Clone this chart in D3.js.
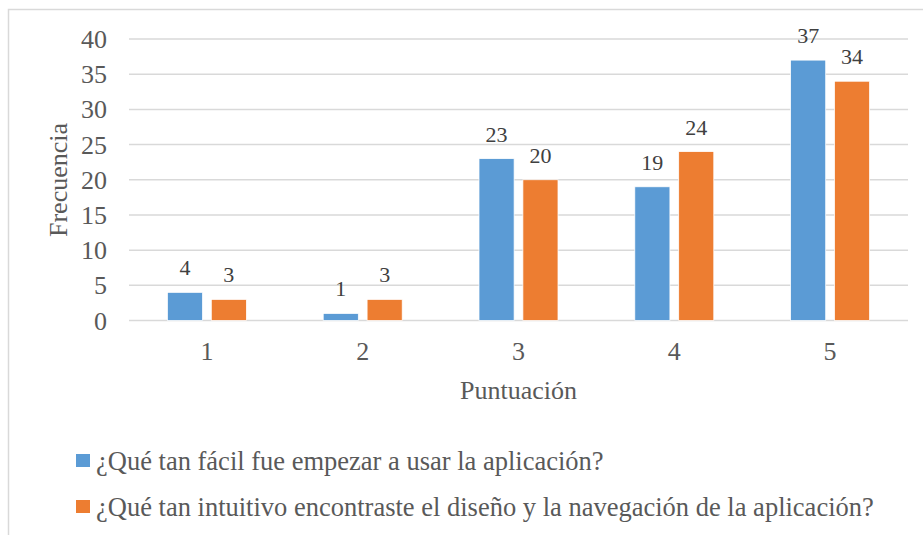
<!DOCTYPE html>
<html>
<head>
<meta charset="utf-8">
<script src="https://cdn.jsdelivr.net/npm/d3@7"></script>
<style>
  html, body { margin: 0; padding: 0; background: #fff; }
  svg text { font-family: 'Liberation Serif', 'Times New Roman', Tinos, 'DejaVu Serif', serif; }
</style>
</head>
<body>
<svg id="chart" width="923" height="535" font-family="Liberation Serif, Times New Roman, DejaVu Serif, serif"></svg>
<script>
// Puntuación (1–5) y frecuencias por pregunta
const categories = ["1", "2", "3", "4", "5"];
const seriesNames = [
  "¿Qué tan fácil fue empezar a usar la aplicación?",
  "¿Qué tan intuitivo encontraste el diseño y la navegación de la aplicación?"
];
const facilValues = [4, 1, 23, 19, 37];
const intuitivoValues = [3, 3, 20, 24, 34];
const yTicks = [0, 5, 10, 15, 20, 25, 30, 35, 40];
const colors = ["#5B9BD5", "#ED7D31"];

const seriesValues = [facilValues, intuitivoValues];
const rows = categories.map((c, i) => ({
  cat: c,
  vals: seriesValues.map((s, k) => ({ k, v: s[i] }))
}));

const svg = d3.select("#chart");

// outer chart frame
svg.append("path")
  .attr("d", "M8.5,535 L8.5,9.5 L923,9.5")
  .attr("fill", "none")
  .attr("stroke", "#D9D9D9")
  .attr("stroke-width", 1.5);

const plot = { left: 129, right: 908, top: 39, bottom: 320.5 };

const x0 = d3.scaleBand()
  .domain(categories)
  .range([plot.left, plot.right])
  .paddingInner(0.493)
  .paddingOuter(0.2465);

const x1 = d3.scaleBand()
  .domain(d3.range(seriesNames.length))
  .range([0, x0.bandwidth()])
  .paddingInner(0.2);

const y = d3.scaleLinear().domain([0, 40]).range([plot.bottom, plot.top]);

// horizontal gridlines
svg.append("g")
  .selectAll("line")
  .data(yTicks)
  .join("line")
  .attr("x1", plot.left)
  .attr("x2", plot.right)
  .attr("y1", d => y(d))
  .attr("y2", d => y(d))
  .attr("stroke", "#D9D9D9")
  .attr("stroke-width", 1.5);

// y tick labels
svg.append("g")
  .selectAll("text")
  .data(yTicks)
  .join("text")
  .attr("x", 107)
  .attr("y", d => y(d) + 9)
  .attr("text-anchor", "end")
  .attr("font-size", 26)
  .attr("fill", "#595959")
  .text(d => d);

// bars
const groups = svg.append("g")
  .selectAll("g")
  .data(rows)
  .join("g")
  .attr("transform", d => `translate(${x0(d.cat)},0)`);

groups.selectAll("rect")
  .data(d => d.vals)
  .join("rect")
  .attr("x", d => x1(d.k))
  .attr("y", d => y(d.v))
  .attr("width", x1.bandwidth())
  .attr("height", d => y(0) - y(d.v))
  .attr("fill", d => colors[d.k])
  .attr("stroke", "#fff")
  .attr("stroke-width", 0.75);

// value labels
groups.selectAll("text")
  .data(d => d.vals)
  .join("text")
  .attr("x", d => x1(d.k) + x1.bandwidth() / 2)
  .attr("y", d => y(d.v) - 17)
  .attr("text-anchor", "middle")
  .attr("font-size", 22)
  .attr("fill", "#404040")
  .text(d => d.v);

// x category labels
svg.append("g")
  .selectAll("text")
  .data(categories)
  .join("text")
  .attr("x", d => x0(d) + x0.bandwidth() / 2)
  .attr("y", 360)
  .attr("text-anchor", "middle")
  .attr("font-size", 26)
  .attr("fill", "#595959")
  .text(d => d);

// axis titles
svg.append("text")
  .attr("x", (plot.left + plot.right) / 2)
  .attr("y", 399)
  .attr("text-anchor", "middle")
  .attr("font-size", 26)
  .attr("fill", "#595959")
  .text("Puntuación");

svg.append("text")
  .attr("transform", "translate(67,180) rotate(-90)")
  .attr("text-anchor", "middle")
  .attr("font-size", 26)
  .attr("fill", "#595959")
  .text("Frecuencia");

// legend
const legend = svg.append("g")
  .selectAll("g")
  .data(seriesNames)
  .join("g")
  .attr("transform", (d, i) => `translate(76,${454 + i * 46})`);

legend.append("rect")
  .attr("width", 14)
  .attr("height", 13)
  .attr("fill", (d, i) => colors[i]);

legend.append("text")
  .attr("x", 20)
  .attr("y", 16)
  .attr("font-size", 26.5)
  .attr("fill", "#595959")
  .text(d => d);
</script>
</body>
</html>
